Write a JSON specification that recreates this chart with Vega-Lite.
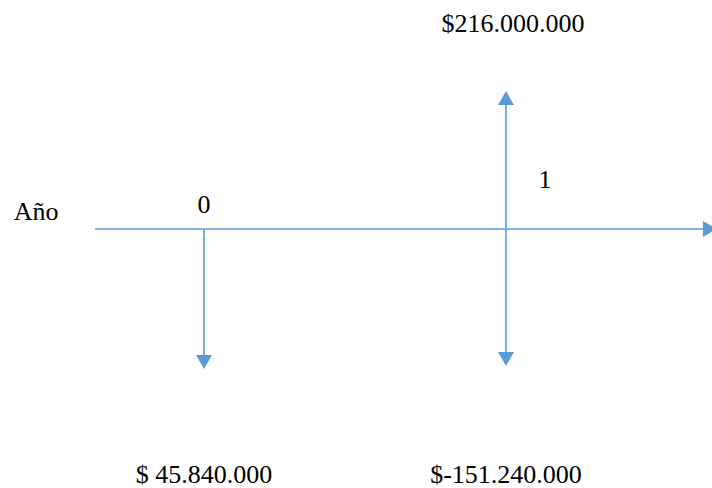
{
  "$schema": "https://vega.github.io/schema/vega-lite/v6.json",
  "width": 712,
  "height": 488,
  "padding": 0,
  "autosize": {"type": "none"},
  "background": "white",
  "config": {"view": {"stroke": null}},
  "datasets": {
    "lines": [
      {"x": -0.361, "x2": 1.675, "y": 0, "y2": 0},
      {"x": 0, "x2": 0, "y": 0, "y2": -130},
      {"x": 1, "x2": 1, "y": 128, "y2": -127}
    ],
    "heads": [
      {"x": 1.675, "y": 0, "shape": "triangle-right"},
      {"x": 0, "y": -133, "shape": "triangle-down"},
      {"x": 1, "y": 131, "shape": "triangle-up"},
      {"x": 1, "y": -130, "shape": "triangle-down"}
    ],
    "labels": [
      {"x": 1.023, "y": 197, "text": "$216.000.000"},
      {"x": 1.129, "y": 41, "text": "1"},
      {"x": 0, "y": 16, "text": "0"},
      {"x": -0.556, "y": 9, "text": "Año"},
      {"x": 0, "y": -254, "text": "$ 45.840.000"},
      {"x": 1, "y": -254, "text": "$-151.240.000"}
    ]
  },
  "layer": [
    {
      "data": {"name": "lines"},
      "mark": {"type": "rule", "color": "#5B9BD5", "strokeWidth": 1.6},
      "encoding": {
        "x": {"field": "x", "type": "quantitative", "scale": {"domain": [-0.6755, 1.6821]}, "axis": null},
        "x2": {"field": "x2"},
        "y": {"field": "y", "type": "quantitative", "scale": {"domain": [-259, 229]}, "axis": null},
        "y2": {"field": "y2"}
      }
    },
    {
      "data": {"name": "heads"},
      "mark": {"type": "point", "filled": true, "color": "#5B9BD5", "opacity": 1, "size": 256, "clip": true},
      "encoding": {
        "x": {"field": "x", "type": "quantitative", "scale": {"domain": [-0.6755, 1.6821]}, "axis": null},
        "y": {"field": "y", "type": "quantitative", "scale": {"domain": [-259, 229]}, "axis": null},
        "shape": {"field": "shape", "type": "nominal", "scale": null, "legend": null}
      }
    },
    {
      "data": {"name": "labels"},
      "mark": {"type": "text", "font": "Liberation Serif", "fontSize": 26, "color": "black", "align": "center", "baseline": "alphabetic"},
      "encoding": {
        "x": {"field": "x", "type": "quantitative", "scale": {"domain": [-0.6755, 1.6821]}, "axis": null},
        "y": {"field": "y", "type": "quantitative", "scale": {"domain": [-259, 229]}, "axis": null},
        "text": {"field": "text"}
      }
    }
  ]
}
